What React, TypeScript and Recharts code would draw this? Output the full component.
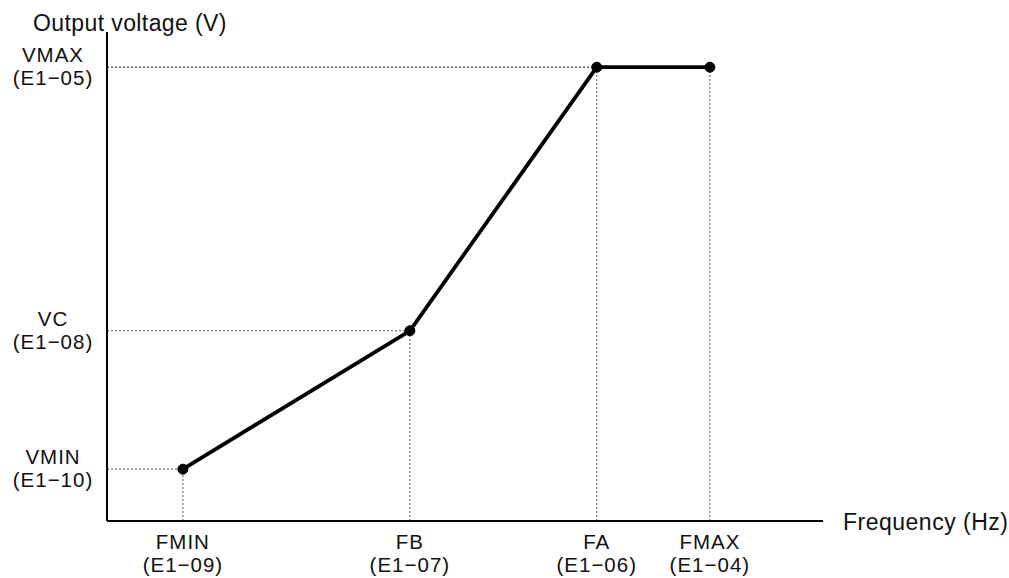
import React from 'react';
import { LineChart, Line, XAxis, YAxis, ReferenceLine } from 'recharts';

// frequency points (share of the axis length, %)
const freqNames = ['FMIN', 'FB', 'FA', 'FMAX'];
const freqCodes = ['(E1\u221209)', '(E1\u221207)', '(E1\u221206)', '(E1\u221204)'];
const freqValues = [10.6, 42.3, 68.4, 84.2];

// voltage at each frequency point (share of the axis height, %)
const voltValues = [10.6, 38.9, 92.8, 92.8];

// voltage tick labels
const voltTicks = [10.6, 38.9, 92.8];
const voltNames = ['VMIN', 'VC', 'VMAX'];
const voltCodes = ['(E1\u221210)', '(E1\u221208)', '(E1\u221205)'];

const data = freqValues.map((f, i) => ({ f, v: voltValues[i] }));

const FONT = '"Liberation Sans", Arial, Helvetica, sans-serif';
const TEXT = '#111';
const DOT = '#555';
const tickText = { fontSize: 20.5, fontFamily: FONT, fill: TEXT, letterSpacing: 1 };

const XTick = (props: any) => {
    const { x, y, payload } = props;
    const i = freqValues.indexOf(payload.value);
    return (
        <g>
            <text x={x} y={y + 28} textAnchor="middle" {...tickText}>{freqNames[i]}</text>
            <text x={x} y={y + 51} textAnchor="middle" {...tickText}>{freqCodes[i]}</text>
        </g>
    );
};

const YTick = (props: any) => {
    const { x, y, payload } = props;
    const i = voltTicks.indexOf(payload.value);
    return (
        <g>
            <text x={x - 54} y={y - 5} textAnchor="middle" {...tickText}>{voltNames[i]}</text>
            <text x={x - 54} y={y + 18} textAnchor="middle" {...tickText}>{voltCodes[i]}</text>
        </g>
    );
};

const App: React.FC = () => {
    return (
        <div style={{ position: 'absolute', left: 0, top: 0 }}>
            <LineChart
                width={1009}
                height={578}
                data={data}
                margin={{ top: 32, right: 186, left: 106, bottom: 56 }}
            >
                <XAxis
                    type="number"
                    dataKey="f"
                    domain={[0, 100]}
                    ticks={freqValues}
                    height={1}
                    tickSize={0}
                    tickMargin={0}
                    tickLine={false}
                    tick={XTick}
                    axisLine={{ stroke: '#000', strokeWidth: 2 }}
                    label={{
                        content: (p: any) => (
                            <text x={p.viewBox.x + p.viewBox.width + 20} y={p.viewBox.y + 9} fontSize={23} letterSpacing={0.5} fontFamily={FONT} fill={TEXT}>
                                Frequency (Hz)
                            </text>
                        ),
                    }}
                />
                <YAxis
                    type="number"
                    domain={[0, 100]}
                    ticks={voltTicks}
                    width={1}
                    tickSize={0}
                    tickMargin={0}
                    tickLine={false}
                    tick={YTick}
                    axisLine={{ stroke: '#000', strokeWidth: 2 }}
                    label={{
                        content: (p: any) => (
                            <text x={p.viewBox.x + p.viewBox.width - 74} y={p.viewBox.y - 1} fontSize={23} letterSpacing={0.4} fontFamily={FONT} fill={TEXT}>
                                Output voltage (V)
                            </text>
                        ),
                    }}
                />
                {data.map((d, i) => (
                    <ReferenceLine
                        key={`h-${i}`}
                        segment={[{ x: 0, y: d.v }, { x: d.f, y: d.v }]}
                        stroke={DOT}
                        strokeWidth={1}
                        strokeDasharray="2 2"
                    />
                ))}
                {data.map((d, i) => (
                    <ReferenceLine
                        key={`v-${i}`}
                        segment={[{ x: d.f, y: 0 }, { x: d.f, y: d.v }]}
                        stroke={DOT}
                        strokeWidth={1}
                        strokeDasharray="2 2"
                    />
                ))}
                <Line
                    type="linear"
                    dataKey="v"
                    stroke="#000"
                    strokeWidth={3.8}
                    dot={{ r: 5, fill: '#000', stroke: '#000', strokeWidth: 1 }}
                    isAnimationActive={false}
                />
            </LineChart>
        </div>
    );
};

export default App;
